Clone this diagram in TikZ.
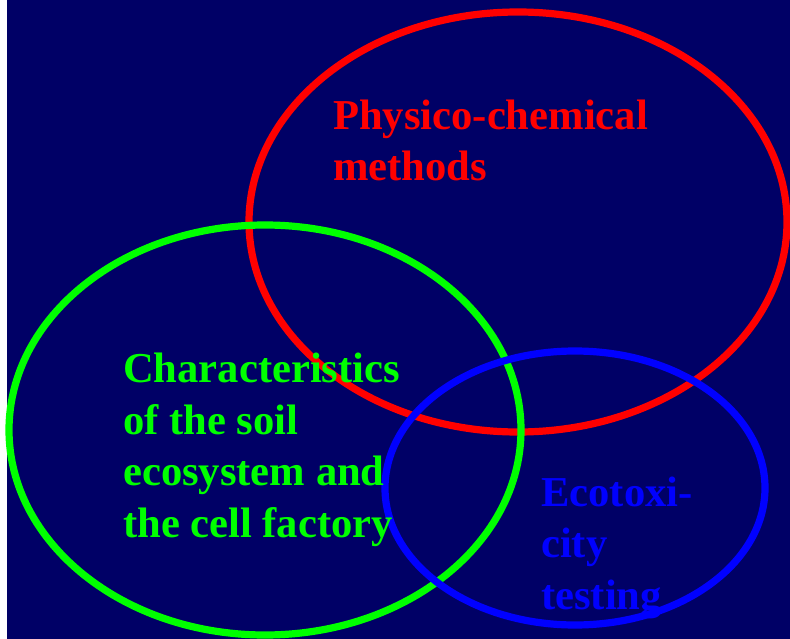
\documentclass[tikz,border=0pt]{standalone}
\usepackage{fontspec}
\setmainfont{Liberation Serif}
\usepackage{tikz}
\definecolor{Navy}{RGB}{0,0,102}
\definecolor{PureRed}{RGB}{255,0,0}
\definecolor{PureGreen}{RGB}{0,255,0}
\definecolor{PureBlue}{RGB}{0,0,255}
\tikzset{
  ring/.style={line width=7.2pt},
  topic/.style={anchor=base west,inner sep=0pt,align=left,
    font=\fontsize{42.6}{51.5}\selectfont\bfseries},
}

\begin{document}
\begin{tikzpicture}[x=1pt,y=-1pt]
%%
\useasboundingbox (0,0) rectangle (790,639);
\fill[white] (0,0) rectangle (7,639);
\fill[Navy] (7,0) rectangle (790,639);

\draw [ring,PureRed] (518,222) ellipse (269 and 210);
\draw [ring,PureGreen] (265,430) ellipse (256 and 205);
\draw [ring,PureBlue] (575,488) ellipse (190 and 137);

\node (physchem) at (333,181) [topic,text=PureRed]
  {Physico-chemical\\methods};
\node (soil) at (123,537) [topic,text=PureGreen]
  {Characteristics\\of the soil\\ecosystem and\\the cell factory};
\node (ecotox) at (541,609) [topic,text=PureBlue]
  {Ecotoxi-\\city\\testing};
\end{tikzpicture}
\end{document}
